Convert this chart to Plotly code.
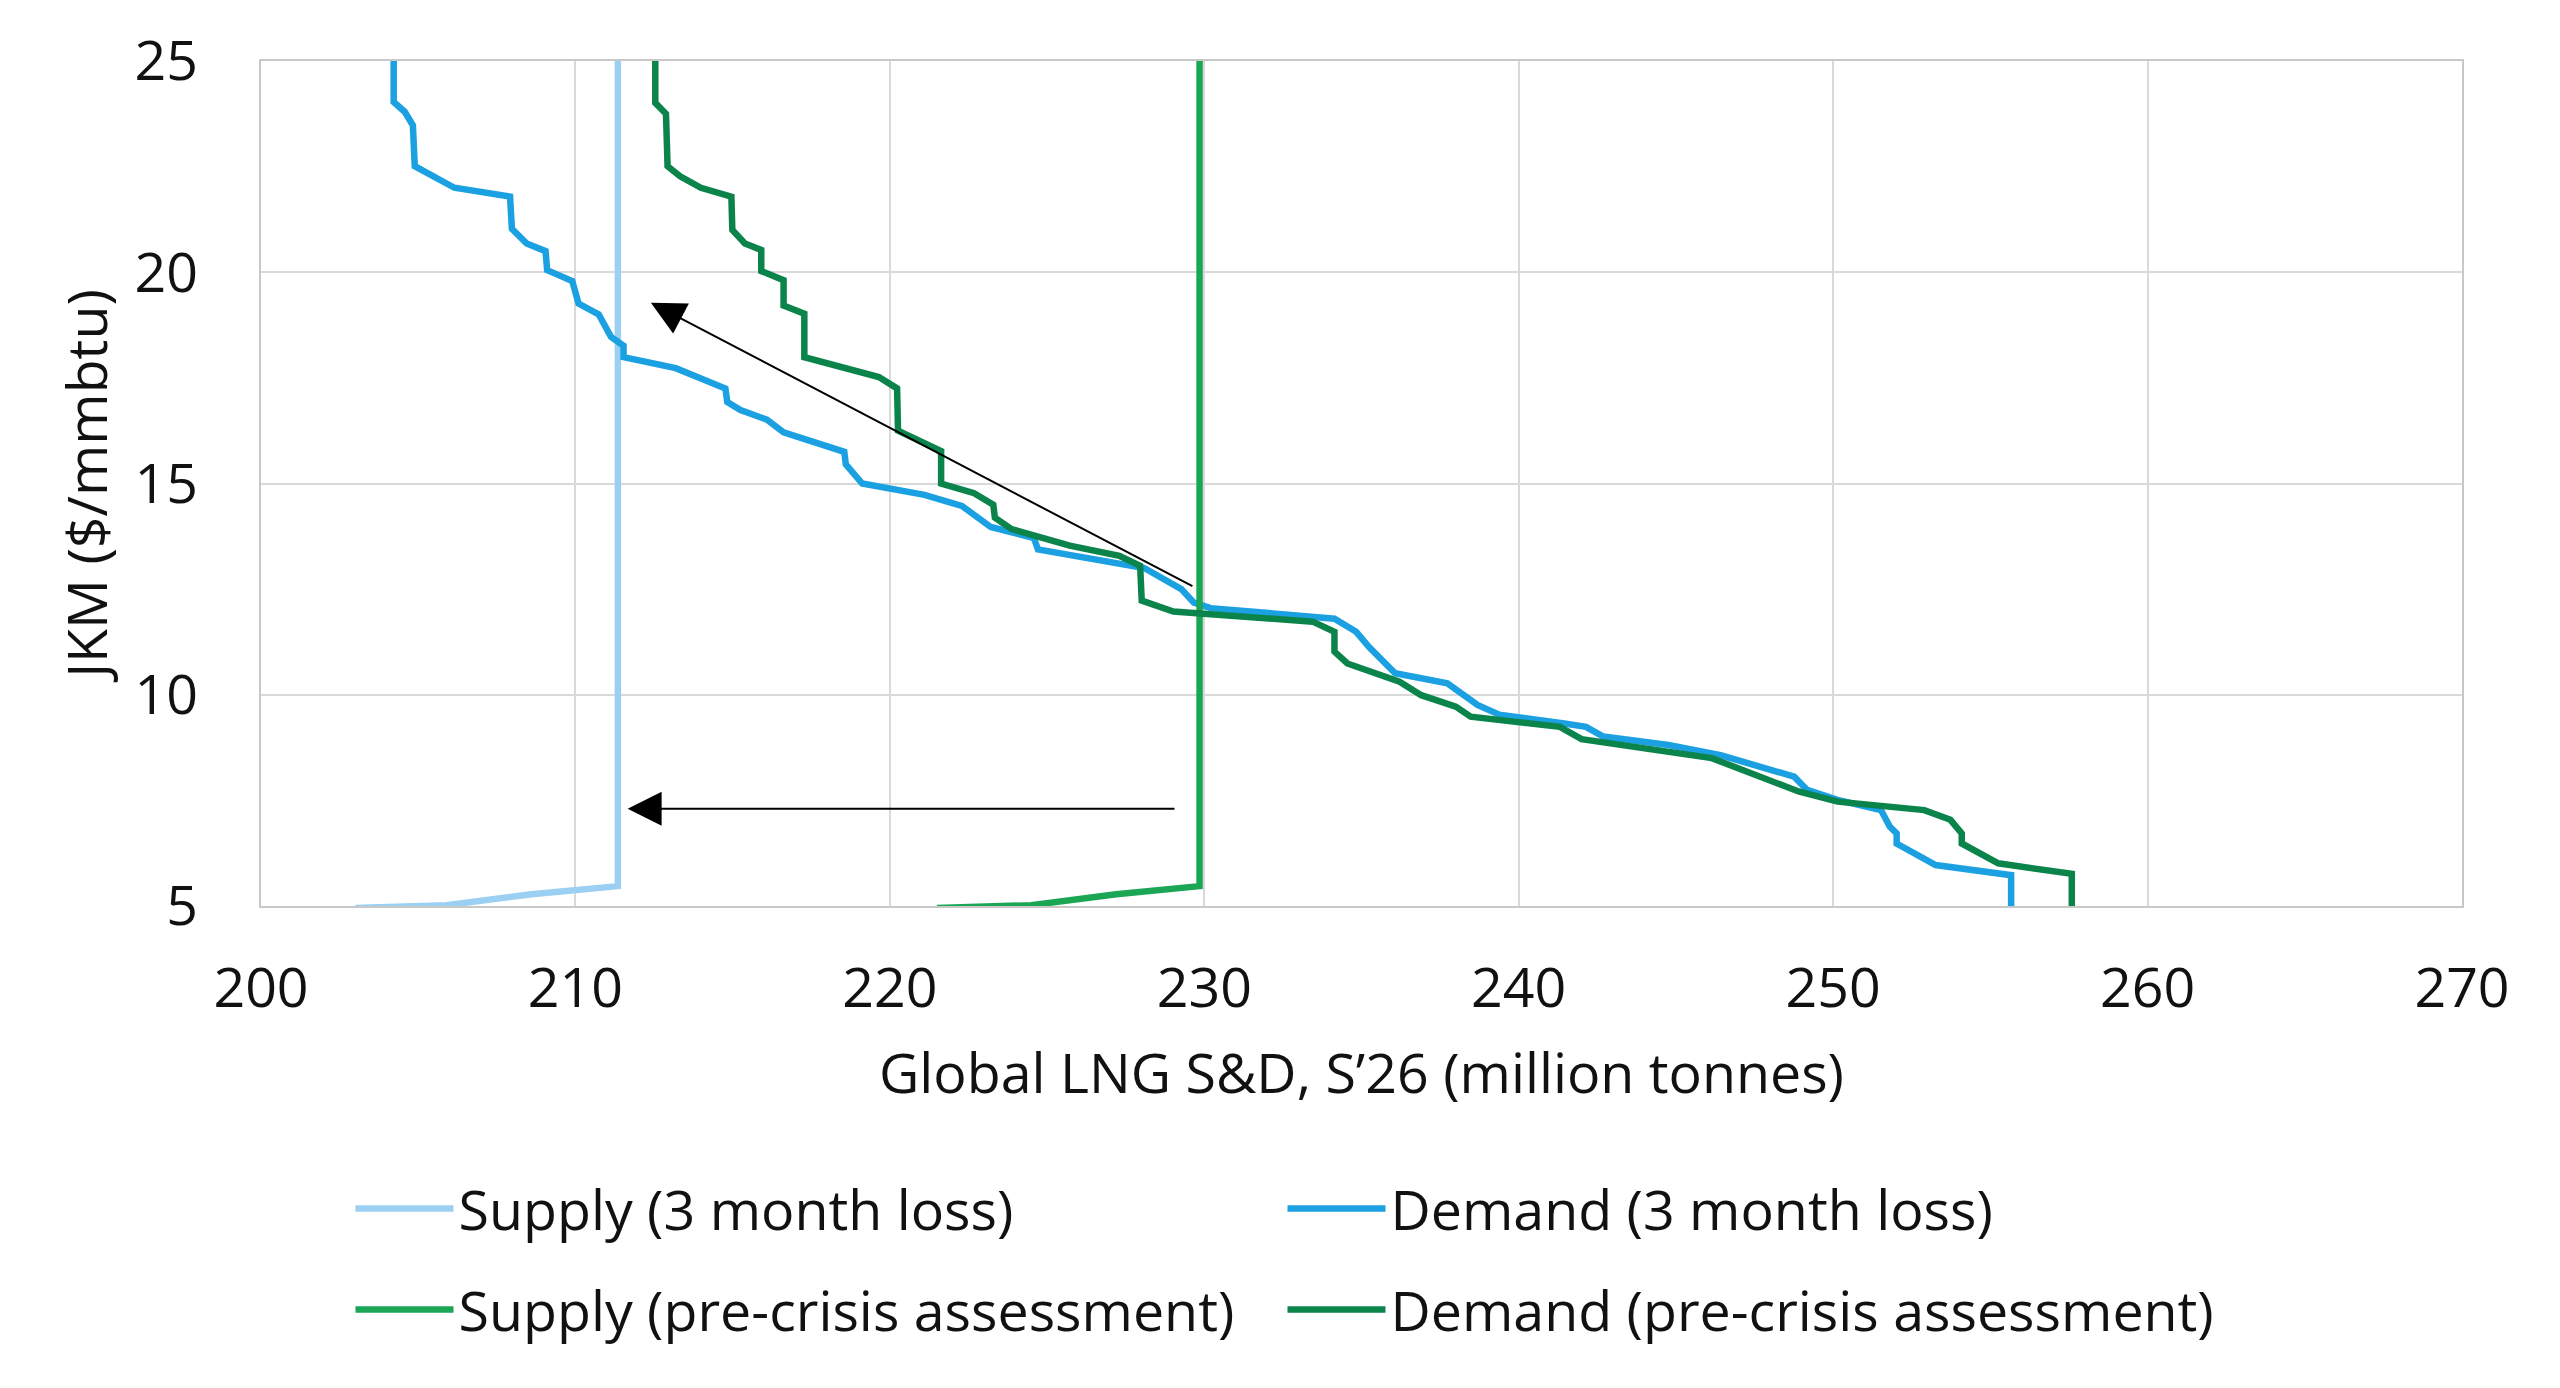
import plotly.graph_objects as go

# ---- data ----
supply_loss_x = [203.0, 205.9, 208.6, 211.35, 211.35]
supply_loss_y = [4.95, 5.02, 5.28, 5.47, 25.0]

supply_pre_x = [221.5, 224.5, 227.2, 229.85, 229.85]
supply_pre_y = [4.95, 5.02, 5.28, 5.47, 25.0]

demand_loss_x = [204.22, 204.22, 204.57, 204.83, 204.89, 206.15, 207.92, 207.98, 208.45, 209.05,
                 209.1, 209.9, 210.1, 210.74, 211.13, 211.53, 211.53, 213.19, 214.77, 214.83,
                 215.25, 216.09, 216.62, 218.55, 218.6, 219.12, 221.1, 222.29, 223.21, 224.58,
                 224.71, 227.3, 228.09, 229.27, 229.67, 230.2, 234.14, 234.83, 235.24, 236.07,
                 237.73, 238.69, 239.38, 241.45, 242.14, 242.69, 244.76, 246.42, 248.76, 249.17,
                 250.14, 251.52, 251.8, 252.02, 252.02, 253.26, 255.66, 255.66]
demand_loss_y = [25.0, 24.03, 23.8, 23.48, 22.51, 22.0, 21.79, 21.03, 20.68, 20.5,
                 20.05, 19.79, 19.26, 19.0, 18.47, 18.26, 17.99, 17.73, 17.25, 16.93,
                 16.74, 16.51, 16.21, 15.75, 15.45, 15.0, 14.73, 14.47, 13.97, 13.71,
                 13.44, 13.11, 13.0, 12.5, 12.18, 12.05, 11.8, 11.49, 11.13, 10.51,
                 10.27, 9.76, 9.53, 9.32, 9.24, 9.01, 8.81, 8.57, 8.06, 7.75,
                 7.51, 7.27, 6.88, 6.72, 6.48, 5.97, 5.73, 4.9]

demand_pre_x = [212.54, 212.54, 212.88, 212.93, 213.33, 213.99, 214.96, 214.99, 215.39, 215.91,
                215.91, 216.62, 216.62, 217.28, 217.28, 219.65, 220.23, 220.26, 221.63, 221.63,
                222.68, 223.29, 223.34, 223.87, 225.72, 227.3, 227.96, 228.01, 229.02, 233.45,
                234.14, 234.14, 234.55, 236.21, 236.9, 238.0, 238.47, 241.31, 242.0, 246.14,
                248.9, 250.14, 252.9, 253.73, 254.09, 254.09, 255.25, 257.59, 257.59]
demand_pre_y = [25.0, 24.01, 23.75, 22.51, 22.27, 22.0, 21.79, 21.0, 20.68, 20.53,
                20.03, 19.81, 19.21, 19.02, 17.99, 17.52, 17.25, 16.25, 15.77, 15.0,
                14.77, 14.5, 14.19, 13.92, 13.53, 13.29, 13.05, 12.23, 11.97, 11.73,
                11.49, 11.02, 10.74, 10.31, 9.99, 9.72, 9.48, 9.24, 8.95, 8.5,
                7.71, 7.47, 7.27, 7.04, 6.72, 6.48, 6.01, 5.76, 4.9]

x_ticks = [200, 210, 220, 230, 240, 250, 260, 270]
y_ticks = [5, 10, 15, 20, 25]

# arrows: (head_x, head_y, tail_x, tail_y)
arrow_diag = (212.4, 19.28, 229.67, 12.55)
arrow_horiz = (211.66, 7.3, 229.1, 7.3)

FONT = "Open Sans"
FS = 55.5
TXT = "#111111"
C_SUP_LOSS = "#9bd0f2"
C_DEM_LOSS = "#1ba1e2"
C_SUP_PRE = "#1aa655"
C_DEM_PRE = "#0b844c"
LW = 6.5

W, H = 2544, 1372  # page body adds an 8px offset

fig = go.Figure()
fig.add_trace(go.Scatter(x=supply_loss_x, y=supply_loss_y, mode="lines",
                         name="Supply (3 month loss)", line=dict(color=C_SUP_LOSS, width=LW),
                         legend="legend"))
fig.add_trace(go.Scatter(x=demand_loss_x, y=demand_loss_y, mode="lines",
                         name="Demand (3 month loss)", line=dict(color=C_DEM_LOSS, width=LW),
                         legend="legend"))
fig.add_trace(go.Scatter(x=supply_pre_x, y=supply_pre_y, mode="lines",
                         name="Supply (pre-crisis assessment)", line=dict(color=C_SUP_PRE, width=LW),
                         legend="legend2"))
fig.add_trace(go.Scatter(x=demand_pre_x, y=demand_pre_y, mode="lines",
                         name="Demand (pre-crisis assessment)", line=dict(color=C_DEM_PRE, width=LW),
                         legend="legend2"))

for hx, hy, tx, ty in (arrow_diag, arrow_horiz):
    fig.add_annotation(x=hx, y=hy, ax=tx, ay=ty, xref="x", yref="y", axref="x", ayref="y",
                       text="", showarrow=True, arrowhead=2, arrowsize=3.4, arrowwidth=2,
                       arrowcolor="black")

legend_common = dict(orientation="h", xref="container", yref="container", xanchor="left",
                     yanchor="middle", x=342.5 / W, entrywidth=819, entrywidthmode="pixels",
                     itemwidth=98, font=dict(family=FONT, size=FS, color=TXT),
                     bgcolor="rgba(0,0,0,0)", traceorder="normal")

fig.update_layout(
    width=W, height=H,
    margin=dict(l=253, r=W - 2454, t=53, b=H - 898),
    paper_bgcolor="white", plot_bgcolor="white",
    font=dict(family=FONT, size=FS, color=TXT),
    showlegend=True,
    legend=dict(**legend_common, y=1 - 1201 / H),
    legend2=dict(**legend_common, y=1 - 1302 / H),
    xaxis=dict(range=[200, 270], tickvals=x_ticks, showgrid=True, gridcolor="#d9d9d9",
               gridwidth=2, showline=True, linecolor="#c8c8c8", linewidth=2, mirror=True,
               zeroline=False, ticks="", ticklabelstandoff=32,
               tickfont=dict(family=FONT, size=FS, color=TXT),
               title=dict(text="Global LNG S&D, S’26 (million tonnes)", standoff=33,
                          font=dict(family=FONT, size=FS, color=TXT)),
               automargin=False),
    yaxis=dict(range=[5, 25], tickvals=y_ticks, showgrid=True, gridcolor="#d9d9d9",
               gridwidth=2, showline=True, linecolor="#c8c8c8", linewidth=2, mirror=True,
               zeroline=False, ticks="", ticklabelstandoff=50,
               tickfont=dict(family=FONT, size=FS, color=TXT),
               title=dict(text="JKM ($/mmbtu)", standoff=9,
                          font=dict(family=FONT, size=FS, color=TXT)),
               automargin=False),
)

fig.write_html("out.html")
